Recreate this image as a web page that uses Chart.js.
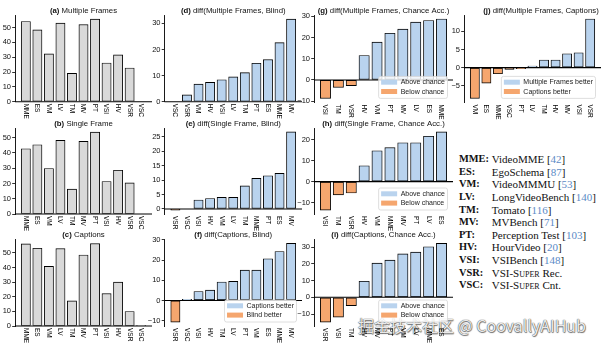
<!DOCTYPE html>
<html><head><meta charset="utf-8">
<script src="https://cdn.jsdelivr.net/npm/chart.js@4.4.0/dist/chart.umd.min.js"></script>
<style>
html,body{margin:0;padding:0;background:#fff;width:604px;height:346px;overflow:hidden;position:relative}
canvas{position:absolute}
#key{position:absolute;left:459px;top:153px;font-family:'Liberation Serif',serif;font-size:11px;color:#111}
.row{position:absolute;left:0;white-space:nowrap;height:12.6px;line-height:12.6px}
.ab{position:absolute;left:0;font-weight:bold;font-size:10.4px}
.nm{position:absolute;left:32.7px}
.cite{color:#5a8ac6}
.sc{font-variant:small-caps}
#wm{position:absolute;left:358px;top:316px;font-family:'Noto Sans CJK SC','Noto Sans',sans-serif;font-size:16px;line-height:18px;white-space:nowrap;color:rgba(255,255,255,0.9);text-shadow:0 0 1px #555,0 0 1px #555,0.5px 0.5px 1px #777}
</style></head>
<body>
<div id="key"></div>
<div id="wm">掘金技术社区 @ CoovallyAIHub</div>
<script>
// ---- data ----
const aLabels = ['MME','ES','VM','LV','TM','MV','PT','VSI','HV','VSR','VSC'];
const aValues = [54.1,48.4,32.3,53.0,19.1,52.0,55.7,26.1,31.6,22.7,0];
const bLabels = ['MME','ES','VM','LV','TM','MV','PT','VSI','HV','VSR','VSC'];
const bValues = [42.8,45.4,29.8,48.3,16.3,47.6,53.7,21.3,28.7,20.4,0];
const cLabels = ['MME','ES','VM','LV','TM','MV','PT','VSI','HV','VSR','VSC'];
const cValues = [56.2,53.2,40.8,53.0,17.2,48.6,56.4,22.2,30.0,9.9,0.5];
const dLabels = ['VSC','VSR','VM','HV','VSI','LV','TM','PT','ES','MME','MV'];
const dValues = [0,2.6,6.7,7.4,8.4,9.5,11.1,14.7,16.1,22.6,31.6];
const eLabels = ['VSR','VSC','VSI','HV','VM','LV','TM','MME','PT','ES','MV'];
const eValues = [-0.4,0,3.1,3.6,4.0,4.0,8.0,10.6,11.5,12.3,26.7];
const fLabels = ['VSR','VSC','VSI','HV','TM','LV','PT','VM','ES','MME','MV'];
const fValues = [-10.7,0.5,4.4,5.1,9.1,9.4,15.0,15.0,20.6,24.2,28.2];
const gLabels = ['VSI','TM','VSR','HV','VM','PT','MV','LV','ES','MME'];
const gValues = [-8.7,-3.5,-2.7,11.5,17.8,22.0,23.9,27.2,28.0,28.7];
const hLabels = ['VSI','TM','VSR','HV','VM','MME','MV','PT','LV','ES'];
const hValues = [-13.6,-6.3,-5.4,7.6,14.8,16.3,18.6,18.6,21.7,23.8];
const iLabels = ['VSR','VSI','TM','HV','MV','PT','VM','LV','MME','ES'];
const iValues = [-14.8,-11.8,-5.0,9.6,20.4,22.2,26.0,27.0,30.2,32.2];
const jLabels = ['VM','ES','MME','VSC','PT','LV','TM','HV','MV','VSI','VSR'];
const jValues = [-8.5,-4.3,-1.7,-0.5,-0.3,0.4,2.1,2.1,3.8,4.1,13.4];

const accTicks = [0,10,20,30,40,50];
const dTicks = [0,10,20,30];
const eTicks = [0,5,10,15,20,25];
const fTicks = [-10,0,10,20,30];
const gTicks = [-10,0,10,20,30];
const hTicks = [-10,0,10,20];
const iTicks = [-10,0,10,20,30];
const jTicks = [-5,0,5,10];

const chanceLegend = ['Above chance','Below chance'];
const fLegend = ['Captions better','Blind better'];
const jLegend = ['Multiple Frames better','Captions better'];

const keyAbbr = ['MME:','ES:','VM:','LV:','TM:','MV:','PT:','HV:','VSI:','VSR:','VSC:'];
const keyName = ['VideoMME','EgoSchema','VideoMMMU','LongVideoBench','Tomato','MVBench','Perception Test','HourVideo','VSIBench','VSI-<span class="sc">Super</span> Rec.','VSI-<span class="sc">Super</span> Cnt.'];
const keyCite = ['42','87','53','140','116','71','103','20','148','',''];

// ---- styles ----
const BLUE='#b9d3ee', ORANGE='#f5a66e', GRAY='#d9d9d9';
const SANS='"Liberation Sans", Arial, sans-serif';

const panels = [
 {t:['(a)',' Multiple Frames'], labels:aLabels, values:aValues, ticks:accTicks, diff:false, box:[0,0,155,122], area:[15,15,152,101.7]},
 {t:['(b)',' Single Frame'], labels:bLabels, values:bValues, ticks:accTicks, diff:false, box:[0,112,155,120], area:[15,128,152,214]},
 {t:['(c)',' Captions'], labels:cLabels, values:cValues, ticks:accTicks, diff:false, box:[0,225,155,121], area:[15,239.5,152,326]},
 {t:['(d)',' diff(Multiple Frames, Blind)'], labels:dLabels, values:dValues, ticks:dTicks, diff:true, box:[143,0,162,122], area:[164.5,15,302,101.7]},
 {t:['(e)',' diff(Single Frame, Blind)'], labels:eLabels, values:eValues, ticks:eTicks, diff:true, box:[143,112,162,120], area:[164.5,128,302,214]},
 {t:['(f)',' diff(Captions, Blind)'], labels:fLabels, values:fValues, ticks:fTicks, diff:true, box:[143,225,162,121], area:[164.5,239.5,302,326], legend:fLegend},
 {t:['(g)',' diff(Multiple Frames, Chance Acc.)'], labels:gLabels, values:gValues, ticks:gTicks, diff:true, box:[292,0,163,122], area:[314,15,453,102.4], legend:chanceLegend},
 {t:['(h)',' diff(Single Frame, Chance Acc.)'], labels:hLabels, values:hValues, ticks:hTicks, diff:true, box:[292,112,163,120], area:[314,128,453,214], legend:chanceLegend},
 {t:['(i)',' diff(Captions, Chance Acc.)'], labels:iLabels, values:iValues, ticks:iTicks, diff:true, box:[292,225,163,121], area:[314,239.5,453,326], legend:chanceLegend},
 {t:['(j)',' diff(Multiple Frames, Captions)'], labels:jLabels, values:jValues, ticks:jTicks, diff:true, box:[445,0,159,122], area:[464,15,601,102.4], legend:jLegend, titleCx:541}
];

function panelPlugin(p){
  return {
    id:'panel',
    afterDatasetsDraw(chart){
      const ctx=chart.ctx, ca=chart.chartArea;
      const y0=chart.scales.y.getPixelForValue(0);
      ctx.save();
      ctx.strokeStyle='#000'; ctx.lineWidth=1.1;
      ctx.beginPath(); ctx.moveTo(ca.left,y0); ctx.lineTo(ca.right,y0); ctx.stroke();
      ctx.restore();
    },
    afterDraw(chart){
      const ctx=chart.ctx, ca=chart.chartArea, xs=chart.scales.x;
      ctx.save();
      ctx.fillStyle='#000'; ctx.font='6.5px '+SANS;
      p.labels.forEach((lab,i)=>{
        const x=xs.getPixelForValue(i);
        ctx.save(); ctx.translate(x, ca.bottom+2); ctx.rotate(Math.PI/2);
        ctx.textAlign='left'; ctx.textBaseline='middle'; ctx.fillText(lab,0,0.3); ctx.restore();
      });
      const cx = p.titleCx!==undefined ? p.titleCx - p.box[0] : (ca.left+ca.right)/2;
      ctx.font='bold 7.8px '+SANS; const w1=ctx.measureText(p.t[0]).width;
      ctx.font='7.8px '+SANS; const w2=ctx.measureText(p.t[1]).width;
      const sx=cx-(w1+w2)/2, ty=ca.top-4.5;
      ctx.textBaseline='middle'; ctx.textAlign='left'; ctx.fillStyle='#111';
      ctx.font='bold 7.8px '+SANS; ctx.fillText(p.t[0],sx,ty);
      ctx.font='7.8px '+SANS; ctx.fillText(p.t[1],sx+w1,ty);
      if(p.legend){
        ctx.font='7px '+SANS;
        const tw=Math.max(...p.legend.map(s=>ctx.measureText(s).width));
        const pad=2.5, hw=16, hh=5, gap=3.5, rowH=9.3;
        const bw=pad+hw+gap+tw+pad, bh=22;
        const bx=ca.right-5.5-bw, by=ca.bottom-4-bh;
        ctx.beginPath();
        if(ctx.roundRect) ctx.roundRect(bx,by,bw,bh,2); else ctx.rect(bx,by,bw,bh);
        ctx.fillStyle='rgba(255,255,255,0.8)'; ctx.fill();
        ctx.strokeStyle='#d6d6d6'; ctx.lineWidth=0.8; ctx.stroke();
        [BLUE,ORANGE].forEach((col,k)=>{
          const cy=by+5.8+k*rowH;
          ctx.fillStyle=col; ctx.fillRect(bx+pad,cy-hh/2,hw,hh);
          ctx.fillStyle='#222'; ctx.textBaseline='middle';
          ctx.fillText(p.legend[k],bx+pad+hw+gap,cy+0.3);
        });
      }
      ctx.restore();
    }
  };
}

panels.forEach(p=>{
  const [x0,y0,w,h]=p.box, [L,T,R,B]=p.area;
  const c=document.createElement('canvas');
  c.width=w; c.height=h;
  c.style.left=x0+'px'; c.style.top=y0+'px'; c.style.width=w+'px'; c.style.height=h+'px';
  document.body.appendChild(c);
  const vals=p.values, n=vals.length;
  const lo=Math.min(0,...vals), hi=Math.max(0,...vals), span=hi-lo;
  const ymin=lo<0?lo-0.05*span:0, ymax=hi>0?hi+0.05*span:0;
  const xspan=(n-1)+0.8;
  const xmin=-0.4-0.05*xspan, xmax=(n-1)+0.4+0.05*xspan;
  new Chart(c,{
    type:'bar',
    data:{datasets:[{
      data:vals.map((v,i)=>({x:i,y:v})),
      backgroundColor:vals.map(v=>p.diff?(v<0?ORANGE:BLUE):GRAY),
      borderColor:'#000', borderWidth:0.9, borderSkipped:false,
      barThickness:'flex', barPercentage:0.8, categoryPercentage:1
    }]},
    options:{
      responsive:false, animation:false, devicePixelRatio:1,
      layout:{padding:{left:0,top:T-y0,right:x0+w-R,bottom:y0+h-B}},
      plugins:{legend:{display:false},tooltip:{enabled:false},title:{display:false}},
      scales:{
        x:{type:'linear',display:false,min:xmin,max:xmax,bounds:'data',offset:false,grid:{offset:false},
           afterBuildTicks:s=>{s.ticks=vals.map((v,i)=>({value:i}));}},
        y:{type:'linear',min:ymin,max:ymax,bounds:'data',
           afterFit:s=>{s.width=L-x0;},
           afterBuildTicks:s=>{s.ticks=p.ticks.map(v=>({value:v}));},
           ticks:{autoSkip:false,color:'#111',padding:1.2,font:{family:'Liberation Sans',size:7.5},
                  callback:v=>(v<0?'\u2212':'')+Math.abs(v)},
           grid:{display:true,drawOnChartArea:false,drawTicks:true,tickLength:2.8,tickWidth:0.8,color:'#000'},
           border:{display:true,color:'#000',width:0.9}
        }
      }
    },
    plugins:[panelPlugin(p)]
  });
});

const key=document.getElementById('key');
keyAbbr.forEach((a,i)=>{
  const r=document.createElement('div'); r.className='row'; r.style.top=(i*12.63)+'px';
  const cite=keyCite[i]?' [<span class="cite">'+keyCite[i]+'</span>]':'';
  r.innerHTML='<span class="ab">'+a+'</span><span class="nm">'+keyName[i]+cite+'</span>';
  key.appendChild(r);
});
</script>
</body></html>
